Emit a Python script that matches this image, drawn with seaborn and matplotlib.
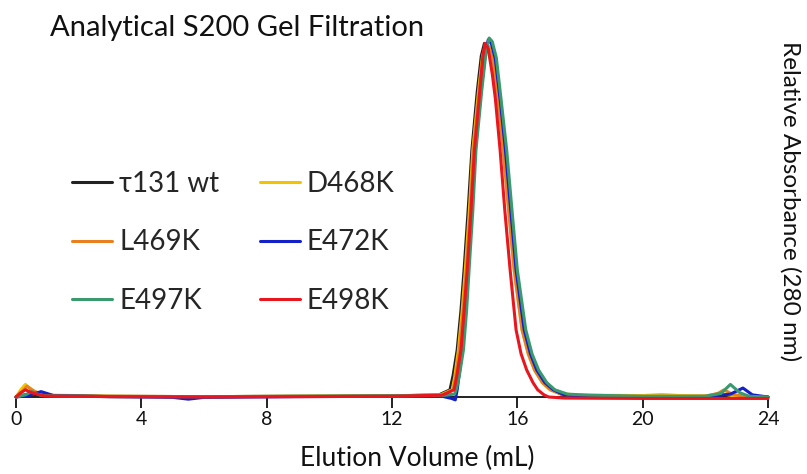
import matplotlib
matplotlib.use("Agg")
import matplotlib.pyplot as plt
import seaborn as sns
import pandas as pd

# ---- data (elution volume in mL, relative absorbance) ----
wt_x = [0, 0.2, 0.5, 1.0, 3, 6, 9, 12, 13.5, 13.85, 13.95, 14.08, 14.2, 14.3, 14.43, 14.55, 14.72, 14.85, 14.95,
        15.05, 15.2, 15.42, 15.6, 15.78, 15.95, 16.2, 16.4, 16.6, 16.85, 17.1, 17.4, 17.7, 18.5, 20, 22, 24]
wt_y = [0, 0.005, 0.008, 0.004, 0.002, 0.001, 0.002, 0.003, 0.006, 0.02, 0.06, 0.131, 0.24, 0.354, 0.52, 0.688,
        0.85, 0.95, 0.985, 0.975, 0.93, 0.83, 0.688, 0.52, 0.354, 0.187, 0.12, 0.075, 0.04, 0.02, 0.008, 0.003,
        0.002, 0.001, 0.002, 0]

d468_x = [0, 0.15, 0.3, 0.5, 0.8, 3, 6, 9, 12, 13.55, 13.92, 14.0, 14.12, 14.24, 14.34, 14.47, 14.58, 14.76, 14.89,
          14.98, 15.08, 15.22, 15.4, 15.55, 15.73, 15.9, 16.15, 16.35, 16.55, 16.8, 17.05, 17.4, 17.8, 18.5, 20,
          20.6, 21.2, 22, 22.5, 22.9, 24]
d468_y = [0, 0.02, 0.035, 0.02, 0.006, 0.002, 0.001, 0.002, 0.003, 0.006, 0.02, 0.055, 0.131, 0.24, 0.354, 0.52,
          0.688, 0.85, 0.95, 0.98, 0.97, 0.93, 0.83, 0.688, 0.52, 0.354, 0.187, 0.12, 0.075, 0.04, 0.02, 0.01,
          0.006, 0.005, 0.004, 0.007, 0.004, 0.003, 0.01, 0.003, 0]

l469_x = [0, 0.2, 0.35, 0.6, 1.0, 3, 6, 9, 12, 13.6, 13.95, 14.03, 14.15, 14.27, 14.37, 14.5, 14.6, 14.78, 14.91,
          15.0, 15.1, 15.24, 15.38, 15.55, 15.72, 15.9, 16.15, 16.35, 16.55, 16.8, 17.05, 17.4, 17.8, 18.5, 20,
          22, 22.4, 22.6, 22.85, 23.2, 24]
l469_y = [0, 0.015, 0.03, 0.015, 0.004, 0.002, 0.001, 0.002, 0.003, 0.006, 0.02, 0.055, 0.131, 0.24, 0.354, 0.52,
          0.688, 0.85, 0.95, 0.985, 0.975, 0.93, 0.83, 0.688, 0.52, 0.354, 0.187, 0.12, 0.075, 0.04, 0.02, 0.008,
          0.004, 0.003, 0.002, 0.002, 0.01, 0.02, 0.008, 0.002, 0]

e472_x = [0, 0.4, 0.8, 1.2, 3, 5.0, 5.5, 6.0, 9, 12, 13.6, 13.9, 14.02, 14.08, 14.14, 14.25, 14.35, 14.43, 14.55,
          14.66, 14.84, 14.97, 15.07, 15.17, 15.3, 15.45, 15.62, 15.79, 15.96, 16.22, 16.42, 16.62, 16.88, 17.15,
          17.5, 17.9, 18.5, 20, 22, 22.8, 23.2, 23.5, 24]
e472_y = [0, 0.004, 0.015, 0.004, 0.001, -0.001, -0.006, -0.001, 0.001, 0.002, 0.002, -0.004, -0.008, 0.02, 0.06,
          0.131, 0.24, 0.354, 0.52, 0.688, 0.85, 0.95, 0.995, 0.985, 0.94, 0.83, 0.688, 0.52, 0.354, 0.187, 0.12,
          0.075, 0.04, 0.02, 0.006, 0.003, 0.002, 0.001, 0.001, 0.008, 0.025, 0.006, 0]

e497_x = [0, 0.3, 0.5, 0.8, 3, 6, 9, 12, 13.6, 14.0, 14.05, 14.15, 14.28, 14.38, 14.46, 14.58, 14.68, 14.86, 15.0,
          15.1, 15.2, 15.33, 15.48, 15.66, 15.83, 16.0, 16.27, 16.47, 16.68, 16.94, 17.2, 17.6, 18.3, 20, 22,
          22.5, 22.8, 23.1, 23.4, 24]
e497_y = [0, 0.006, 0.015, 0.004, 0.001, 0.001, 0.002, 0.003, 0.004, 0.008, 0.02, 0.06, 0.131, 0.24, 0.354, 0.52,
          0.688, 0.85, 0.96, 1.0, 0.99, 0.945, 0.83, 0.688, 0.52, 0.354, 0.187, 0.12, 0.075, 0.04, 0.02, 0.008,
          0.005, 0.002, 0.002, 0.01, 0.035, 0.012, 0.002, 0]

e498_x = [0, 0.15, 0.3, 0.5, 0.9, 3, 6, 9, 12, 13.6, 13.98, 14.06, 14.2, 14.3, 14.4, 14.52, 14.63, 14.8, 14.9, 14.97,
          15.07, 15.2, 15.3, 15.45, 15.6, 15.77, 15.96, 16.12, 16.3, 16.5, 16.65, 16.85, 17.0, 17.5, 20, 22, 24]
e498_y = [0, 0.012, 0.02, 0.012, 0.003, 0.001, 0.0, 0.001, 0.002, 0.005, 0.02, 0.055, 0.131, 0.24, 0.354, 0.52,
          0.688, 0.85, 0.95, 0.985, 0.97, 0.9, 0.83, 0.688, 0.52, 0.354, 0.187, 0.12, 0.075, 0.04, 0.02, 0.006,
          0.0, -0.003, -0.004, -0.004, -0.004]

sample_names = ["τ131 wt", "D468K", "L469K", "E472K", "E497K", "E498K"]
sample_colors = ["#222222", "#f2c300", "#e8801f", "#1420c8", "#3a9a6e", "#e8161e"]
xticks = [0, 4, 8, 12, 16, 20, 24]

series = [(wt_x, wt_y), (d468_x, d468_y), (l469_x, l469_y), (e472_x, e472_y), (e497_x, e497_y), (e498_x, e498_y)]
frames = []
for name, (xs, ys) in zip(sample_names, series):
    frames.append(pd.DataFrame({"volume": xs, "absorbance": ys, "sample": name}))
df = pd.concat(frames, ignore_index=True)

sns.set_style("white")
plt.rcParams["font.family"] = ["Lato", "DejaVu Sans"]

W, H = 807, 474
fig = plt.figure(figsize=(W / 100, H / 100), dpi=100)
ax = fig.add_axes([16 / W, 1 - 397 / H, (768 - 16) / W, (397 - 30) / H])

palette = dict(zip(sample_names, sample_colors))
sns.lineplot(data=df, x="volume", y="absorbance", hue="sample", hue_order=sample_names,
             palette=palette, estimator=None, sort=False, linewidth=2.2, ax=ax, legend=False)
for ln in ax.get_lines():
    ln.set_clip_on(False)
    ln.set_solid_joinstyle("round")

ax.set_xlim(0, 24)
ax.set_ylim(0, (397 - 30) / 359)
ax.set_xticks(xticks)
ax.set_xticklabels([str(t) for t in xticks])
ax.set_yticks([])
ax.set_xlabel("")
ax.set_ylabel("")
for s in ["top", "left", "right"]:
    ax.spines[s].set_visible(False)
ax.spines["bottom"].set_color("#111111")
ax.spines["bottom"].set_linewidth(1.3)
ax.spines["bottom"].set_zorder(0.5)
ax.tick_params(axis="x", direction="out", length=8, width=1.3, color="#111111",
               labelsize=14, pad=2, labelcolor="#111111", bottom=True)

# legend (two columns)
from matplotlib.lines import Line2D
order = ["τ131 wt", "L469K", "E497K", "D468K", "E472K", "E498K"]
handles = [Line2D([], [], color=palette[n], linewidth=2.2) for n in order]
fig.legend(handles, order, loc="upper left", bbox_to_anchor=(72 / W, 1 - 171 / H), ncol=2,
           frameon=False, fontsize=20, handlelength=1.45, handletextpad=0.25, columnspacing=1.45,
           labelspacing=1.17, borderpad=0, borderaxespad=0)

fig.text(50 / W, 1 - 15 / H, "Analytical S200 Gel Filtration", ha="left", va="top", fontsize=21, color="#111111")
fig.text(417 / W, 1 - 458 / H, "Elution Volume (mL)", ha="center", va="center", fontsize=19, color="#111111")
fig.text(790 / W, 1 - 201 / H, "Relative Absorbance (280 nm)", ha="center", va="center", rotation=-90,
         fontsize=17.5, color="#111111")

fig.savefig("out.png", dpi=100)
